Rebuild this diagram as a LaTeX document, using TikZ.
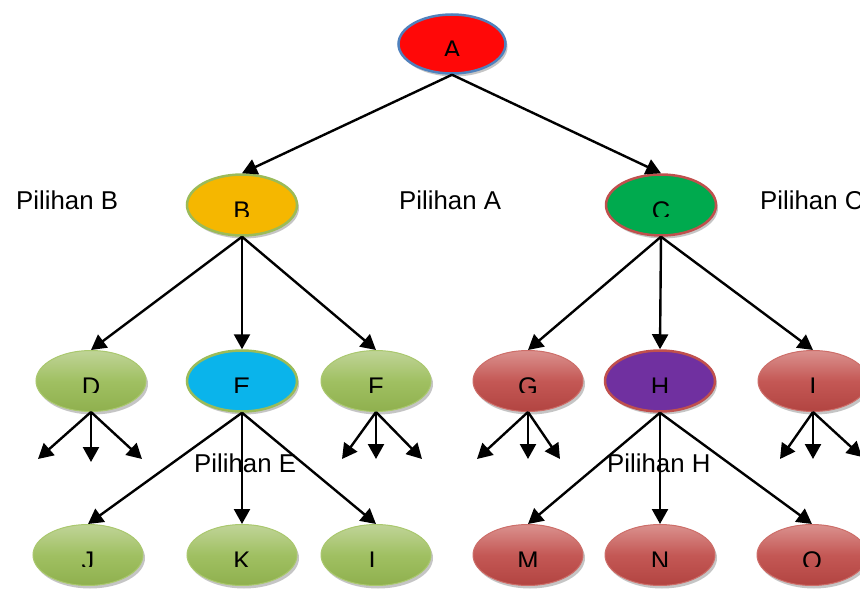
\documentclass[tikz,border=0pt]{standalone}
\usepackage{fontspec}
\setmainfont{Liberation Sans}
\usetikzlibrary{arrows.meta,shapes.geometric,shadows}
\definecolor{redA}{RGB}{255,8,8}
\definecolor{blueBorder}{RGB}{79,129,189}
\definecolor{orangeB}{RGB}{245,183,0}
\definecolor{greenBorder}{RGB}{155,187,89}
\definecolor{greenC}{RGB}{0,170,78}
\definecolor{redBorder}{RGB}{192,80,77}
\definecolor{skyE}{RGB}{10,180,235}
\definecolor{purpleH}{RGB}{112,48,160}
\definecolor{gTop}{RGB}{192,212,152}
\definecolor{gMid}{RGB}{160,192,98}
\definecolor{gBot}{RGB}{143,176,78}
\definecolor{gLine}{RGB}{170,200,110}
\definecolor{rTop}{RGB}{218,145,142}
\definecolor{rMid}{RGB}{196,88,85}
\definecolor{rBot}{RGB}{178,68,65}
\definecolor{rLine}{RGB}{205,110,105}
\newcommand\ovallabel[2]{%
  \begin{scope}
    \clip ([xshift=-28pt,yshift=14pt]#1.center) rectangle ([xshift=28pt,yshift=-11.5pt]#1.center);
    \node[lab, anchor=base] (t#1) at ([yshift=-14.5pt]#1.center) {#2};
  \end{scope}}
\begin{document}
\begin{tikzpicture}[x=1pt,y=-1pt,
  lab/.style={inner sep=0pt, font=\fontsize{25.5}{30}\selectfont, text=black},
  oval/.style={ellipse, minimum width=110pt, minimum height=61pt, inner sep=0pt,
    drop shadow={opacity=0.45, shadow xshift=2pt, shadow yshift=-3pt}},
  solidoval/.style={oval, line width=2.5pt},
  gnode/.style={oval, draw=gLine, line width=1pt, top color=gTop, bottom color=gBot, middle color=gMid},
  rnode/.style={oval, draw=rLine, line width=1pt, top color=rTop, bottom color=rBot, middle color=rMid},
  arr/.style={draw=black, line width=2.4pt, -{Triangle[length=15pt,width=16pt]}},
  caption/.style={inner sep=0pt, font=\fontsize{25.8}{30}\selectfont, anchor=base west}
]
\useasboundingbox (0,0) rectangle (860,589);
\fill[white] (0,0) rectangle (860,589);

% nodes
\node[solidoval, draw=blueBorder, fill=redA, minimum width=107pt, minimum height=59pt] (A) at (452,44) {};
\node[solidoval, draw=greenBorder, fill=orangeB] (B) at (242,205) {};
\node[solidoval, draw=redBorder, fill=greenC] (C) at (661,205) {};

\node[gnode] (D) at (91,381) {};
\node[solidoval, draw=greenBorder, fill=skyE] (E) at (242,381) {};
\node[gnode] (F) at (376,381) {};
\node[rnode] (G) at (528,381) {};
\node[solidoval, draw=redBorder, fill=purpleH] (H) at (660,381) {};
\node[rnode] (I) at (813,381) {};

\node[gnode] (J) at (88,555) {};
\node[gnode] (K) at (242,555) {};
\node[gnode] (L) at (376,555) {};
\node[rnode] (M) at (528,555) {};
\node[rnode] (N) at (660,555) {};
\node[rnode] (O) at (812,555) {};

% labels inside ovals (clipped at the bottom as printed)
\ovallabel{A}{A}
\ovallabel{B}{B}
\ovallabel{C}{C}
\ovallabel{D}{D}
\ovallabel{E}{E}
\ovallabel{F}{F}
\ovallabel{G}{G}
\ovallabel{H}{H}
\ovallabel{I}{I}
\ovallabel{J}{J}
\ovallabel{K}{K}
\ovallabel{L}{L}
\ovallabel{M}{M}
\ovallabel{N}{N}
\ovallabel{O}{O}

% free ends of the short arrows
\coordinate (d1) at (38,459);
\coordinate (d2) at (91,462);
\coordinate (d3) at (142,459);
\coordinate (f1) at (342,459);
\coordinate (f2) at (376,459);
\coordinate (f3) at (422,459);
\coordinate (g1) at (477,459);
\coordinate (g2) at (528,459);
\coordinate (g3) at (560,459);
\coordinate (i1) at (780,459);
\coordinate (i2) at (813,459);
\coordinate (i3) at (862,457);

% connectors
\draw[arr] (A.south) -- (B.north);
\draw[arr] (A.south) -- (C.north);
\foreach \t in {D,E,F} \draw[arr] (B.south) -- (\t.north);
\foreach \t in {G,H,I} \draw[arr] (C.south) -- (\t.north);
\foreach \t in {J,K,L} \draw[arr] (E.south) -- (\t.north);
\foreach \t in {M,N,O} \draw[arr] (H.south) -- (\t.north);
\foreach \t in {d1,d2,d3} \draw[arr] (D.south) -- (\t);
\foreach \t in {f1,f2,f3} \draw[arr] (F.south) -- (\t);
\foreach \t in {g1,g2,g3} \draw[arr] (G.south) -- (\t);
\foreach \t in {i1,i2,i3} \draw[arr] (I.south) -- (\t);

% captions
\node[caption] (pB) at (16,209) {Pilihan B};
\node[caption] (pA) at (399,209) {Pilihan A};
\node[caption] (pC) at (760,209) {Pilihan C};
\node[caption] (pE) at (194,472) {Pilihan E};
\node[caption] (pH) at (607,472) {Pilihan H};
\end{tikzpicture}
\end{document}
